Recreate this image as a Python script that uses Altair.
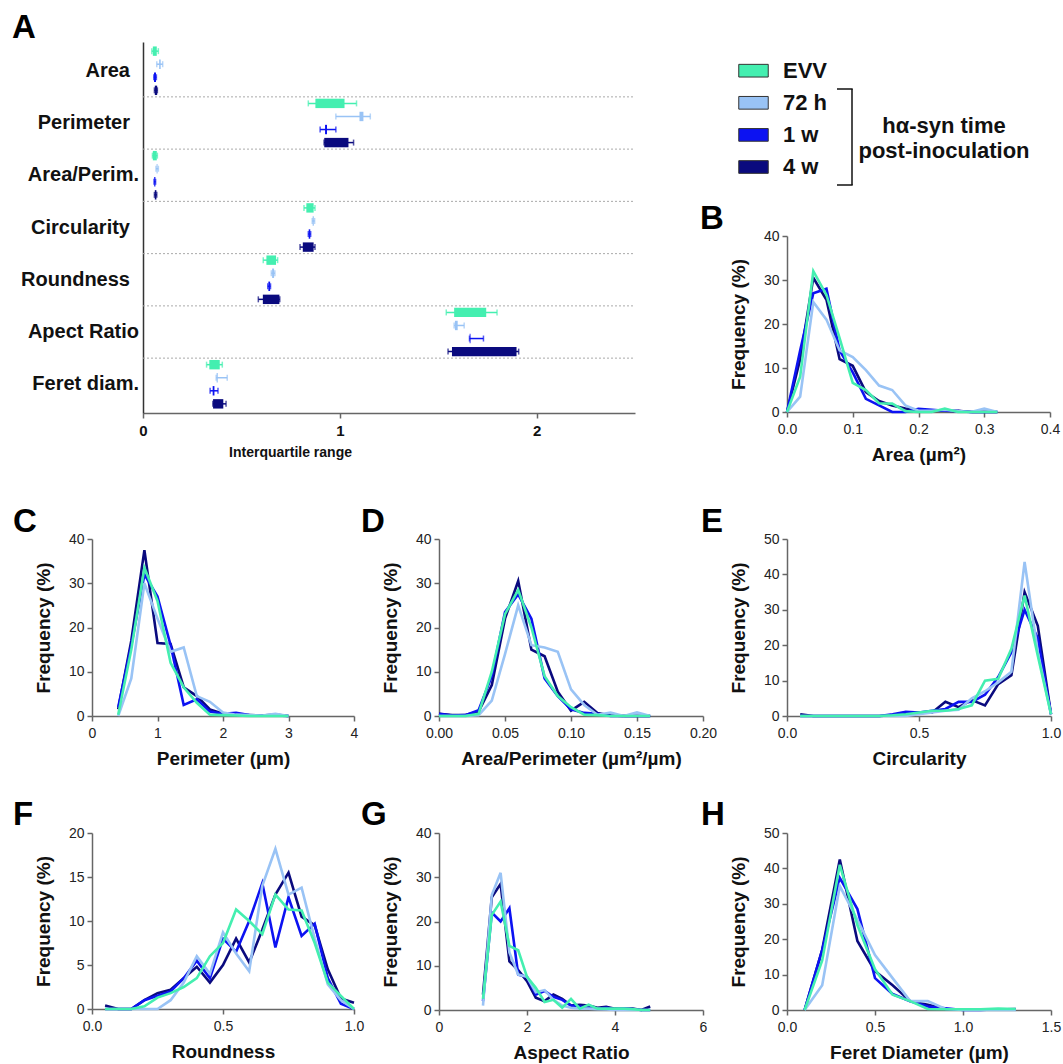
import altair as alt
import pandas as pd

W, H = 1063, 1064
FONT = "Liberation Sans"

# ---------------------------------------------------------------- groups
groups = ["EVV", "72 h", "1 w", "4 w"]
group_colors = ["#44EFB0", "#99C3F5", "#0C12F2", "#0A0A7E"]
color_of = dict(zip(groups, group_colors))
draw_order = ["4 w", "1 w", "72 h", "EVV"]

# ---------------------------------------------------------------- panel A: interquartile ranges
params = ["Area", "Perimeter", "Area/Perim.", "Circularity", "Roundness", "Apect Ratio", "Feret diam."]
short_params = ["Area", "Perimeter", "Circularity", "Roundness"]
# values per parameter, in the order EVV, 72 h, 1 w, 4 w
whisker_lo = {
    "Area": [0.045, 0.070, 0.055, 0.058],
    "Perimeter": [0.840, 0.980, 0.900, 0.920],
    "Area/Perim.": [0.048, 0.066, 0.056, 0.058],
    "Circularity": [0.818, 0.860, 0.840, 0.798],
    "Roundness": [0.611, 0.652, 0.634, 0.586],
    "Apect Ratio": [1.541, 1.581, 1.659, 1.550],
    "Feret diam.": [0.323, 0.372, 0.341, 0.355],
}
box_lo = {
    "Area": [0.050, 0.082, 0.056, 0.060],
    "Perimeter": [0.876, 1.100, 0.925, 0.921],
    "Area/Perim.": [0.050, 0.069, 0.057, 0.060],
    "Circularity": [0.830, 0.862, 0.842, 0.812],
    "Roundness": [0.627, 0.656, 0.637, 0.609],
    "Apect Ratio": [1.581, 1.585, 1.660, 1.570],
    "Feret diam.": [0.337, 0.374, 0.354, 0.356],
}
box_hi = {
    "Area": [0.070, 0.090, 0.066, 0.072],
    "Perimeter": [1.024, 1.120, 0.935, 1.044],
    "Area/Perim.": [0.070, 0.074, 0.063, 0.068],
    "Circularity": [0.867, 0.868, 0.850, 0.867],
    "Roundness": [0.676, 0.666, 0.646, 0.693],
    "Apect Ratio": [1.744, 1.599, 1.664, 1.898],
    "Feret diam.": [0.390, 0.380, 0.363, 0.408],
}
whisker_hi = {
    "Area": [0.078, 0.100, 0.068, 0.073],
    "Perimeter": [1.085, 1.155, 0.980, 1.070],
    "Area/Perim.": [0.073, 0.078, 0.064, 0.070],
    "Circularity": [0.874, 0.872, 0.852, 0.874],
    "Roundness": [0.684, 0.670, 0.648, 0.695],
    "Apect Ratio": [1.799, 1.632, 1.730, 1.909],
    "Feret diam.": [0.403, 0.428, 0.381, 0.422],
}

# ---------------------------------------------------------------- panels B-H: frequency distributions
area_bins = [0.00, 0.02, 0.04, 0.06, 0.08, 0.10, 0.12, 0.14, 0.16, 0.18, 0.20, 0.22, 0.24, 0.26, 0.28, 0.30, 0.32]
area_freq = {
    "EVV": [0, 8, 32, 26.6, 16.8, 6.6, 5, 2, 1.9, 0.2, 0, 0, 0.8, 0, 0, 0, 0],
    "72 h": [0, 3.5, 25, 21, 14, 12.5, 9.5, 6, 5, 1.5, 0.3, 0.3, 0.5, 0.2, 0, 0.8, 0],
    "1 w": [0, 14, 27, 28, 14, 9, 3, 1.5, 0, 0, 0.7, 0.5, 0.3, 0.2, 0, 0, 0],
    "4 w": [0, 12, 30.5, 25.5, 12, 10.5, 4.5, 2.5, 1.5, 0.8, 0.5, 0.3, 0.3, 0.3, 0, 0, 0],
}

perim_bins = [0.4, 0.6, 0.8, 1.0, 1.2, 1.4, 1.6, 1.8, 2.0, 2.2, 2.4, 2.6, 2.8, 3.0]
perim_freq = {
    "EVV": [0.3, 15, 33.5, 26, 12, 6.5, 3, 0.3, 0.2, 0.1, 0, 0, 0, 0],
    "72 h": [0, 8.5, 30, 22, 14.5, 15.5, 4.5, 3.2, 0.8, 0.3, 0.2, 0.1, 0.5, 0],
    "1 w": [2, 16, 32, 27, 16, 2.5, 3.8, 1, 0.5, 0.7, 0.2, 0.1, 0.1, 0],
    "4 w": [1.5, 17, 37.5, 16.5, 16.3, 6.5, 4.5, 1.5, 0.5, 0.3, 0.2, 0.1, 0.3, 0],
}

ap_bins = [0.00, 0.01, 0.02, 0.03, 0.04, 0.05, 0.06, 0.07, 0.08, 0.09, 0.10, 0.11, 0.12, 0.13, 0.14, 0.15, 0.16]
ap_freq = {
    "EVV": [0, 0, 0, 0.5, 10, 23, 28.5, 20, 9, 4.5, 2, 0.3, 0.2, 0, 0, 0, 0],
    "72 h": [0, 0, 0, 0.2, 3.5, 14, 25, 16, 15.5, 14.5, 6, 2.5, 0.3, 0.8, 0, 0.8, 0],
    "1 w": [0.5, 0.1, 0.2, 1.3, 9, 23.5, 27.5, 22, 8.5, 4.5, 1.5, 0.7, 0.5, 0, 0, 0, 0],
    "4 w": [0.5, 0.2, 0.2, 1, 7, 22, 30.5, 15, 13.5, 5.5, 1.2, 3.2, 0.7, 0.1, 0, 0, 0],
}

circ_bins = [0.05, 0.10, 0.15, 0.20, 0.25, 0.30, 0.35, 0.40, 0.45, 0.50,
             0.55, 0.60, 0.65, 0.70, 0.75, 0.80, 0.85, 0.90, 0.95, 1.00]
circ_freq = {
    "EVV": [0, 0, 0, 0, 0, 0, 0, 0.2, 0.5, 1, 1.5, 1.5, 2, 3, 10, 10.5, 19, 34, 17, 0.5],
    "72 h": [0, 0, 0, 0, 0, 0, 0, 0, 0, 0.5, 1, 1.5, 1.8, 5, 7, 9.5, 12.5, 43.5, 18, 0.5],
    "1 w": [0, 0, 0, 0, 0, 0, 0, 0.5, 1.2, 1, 1.5, 2, 4, 4, 6, 11, 18, 30, 22, 0.5],
    "4 w": [0.5, 0, 0, 0, 0, 0, 0, 0.2, 0.6, 1, 1, 4, 2.5, 4.5, 3, 9, 11.5, 35, 25.5, 0.5],
}

round_bins = circ_bins
round_freq = {
    "EVV": [0, 0, 0, 0.3, 1.3, 1.8, 2.5, 3.5, 6, 7.5, 11.3, 10, 8.5, 13, 11.3, 11.2, 7.5, 3, 1.5, 0],
    "72 h": [0, 0, 0, 0, 0, 1, 3, 6, 4, 8.7, 6.3, 4.3, 14, 18.2, 13, 13.8, 8, 2.8, 1, 0],
    "1 w": [0, 0, 0, 1, 1.5, 2, 3.5, 5.5, 3.5, 8, 6.5, 10, 14.3, 7, 12.7, 8.3, 9.7, 3.5, 0.6, 0],
    "4 w": [0.4, 0, 0, 1, 1.8, 2.2, 3.5, 4.8, 3, 5, 8, 5.3, 9, 13, 15.5, 10.5, 9.5, 4.5, 1.2, 0.7],
}

ar_bins = [1.0, 1.2, 1.4, 1.6, 1.8, 2.0, 2.2, 2.4, 2.6, 2.8,
           3.0, 3.2, 3.4, 3.6, 3.8, 4.0, 4.2, 4.4, 4.6, 4.8]
ar_freq = {
    "EVV": [2.5, 21.5, 24.5, 14.5, 13.5, 7.5, 5, 1.8, 2.3, 0.5, 2.5, 0.3, 1.2, 0.3, 0.3, 0.3, 0.3, 0.2, 0, 0],
    "72 h": [1, 26, 31, 13, 8, 7.5, 4, 4.5, 2.3, 1, 0.5, 0.3, 0.3, 0.2, 0.1, 0, 0, 0, 0, 0],
    "1 w": [2, 22, 20, 23, 8, 7.5, 3.5, 4.3, 3, 2.3, 1, 0.8, 0.5, 0.3, 0.5, 0.2, 0.3, 0.2, 0, 0],
    "4 w": [3.5, 25.5, 28.5, 11, 9, 6.5, 2.8, 2, 3.5, 2.5, 1, 1.2, 1, 0.5, 0.7, 0.3, 0.2, 0.3, 0, 0.8],
}

feret_bins = [0.1, 0.2, 0.3, 0.4, 0.5, 0.6, 0.7, 0.8, 0.9, 1.0, 1.1, 1.2, 1.3]
feret_freq = {
    "EVV": [0, 14, 41, 24, 11.5, 4.3, 2.5, 0.3, 0.2, 0.2, 0.2, 0.4, 0.3],
    "72 h": [0, 7, 35, 25.5, 15.5, 9, 2.5, 2.5, 0.3, 0, 0, 0, 0],
    "1 w": [0, 17, 37.3, 28.5, 9, 4.5, 2.5, 1, 0.5, 0, 0, 0.2, 0.2],
    "4 w": [0, 17, 42.5, 19.5, 11, 7, 2.5, 1.5, 0.3, 0.2, 0.1, 0.1, 0.3],
}

# ---------------------------------------------------------------- helpers
AXIS_GREY = "#666666"


def lin(domain, rng):
    return alt.Scale(domain=domain, range=rng, nice=False, zero=False)


def bottom_axis(y_px, x_px, values, fmt, title):
    return alt.Axis(
        orient="bottom", offset=y_px - H, values=values, format=fmt,
        title=title, titleX=(x_px[0] + x_px[1]) / 2, titleY=42,
        titleBaseline="middle", titleAlign="center",
        titleFont=FONT, titleFontSize=19, titleFontWeight="bold", titleColor="#111",
        labelFont=FONT, labelFontSize=14, labelColor="#222",
        labelPadding=5, labelFlush=False, labelOverlap=False,
        tickSize=5, tickWidth=1.5, tickColor=AXIS_GREY,
        domainColor=AXIS_GREY, domainWidth=1.5, grid=False,
    )


def left_axis(x_px, y_px, values, title):
    return alt.Axis(
        orient="left", offset=-x_px, values=values, format="d",
        title=title, titleX=-49, titleY=(y_px[0] + y_px[1]) / 2,
        titleAngle=270, titleBaseline="middle", titleAlign="center",
        titleFont=FONT, titleFontSize=19, titleFontWeight="bold", titleColor="#111",
        labelFont=FONT, labelFontSize=14, labelColor="#222", labelPadding=3,
        labelFlush=False, labelOverlap=False,
        tickSize=5, tickWidth=1.5, tickColor=AXIS_GREY,
        domainColor=AXIS_GREY, domainWidth=1.5, grid=False,
    )


def hist_panel(bins, freqs, xdom, x_px, ydom, y_px, xticks, xfmt, yticks, xtitle):
    sx = lin(xdom, x_px)
    sy = lin(ydom, y_px)
    out = []
    for k, g in enumerate(draw_order):
        df = pd.DataFrame({"x": bins, "freq": freqs[g]})
        ax_x = bottom_axis(y_px[0], x_px, xticks, xfmt, xtitle) if k == 0 else None
        ax_y = left_axis(x_px[0], y_px, yticks, "Frequency (%)") if k == 0 else None
        out.append(
            alt.Chart(df).mark_line(color=color_of[g], strokeWidth=2.6).encode(
                x=alt.X("x:Q", scale=sx, axis=ax_x),
                y=alt.Y("freq:Q", scale=sy, axis=ax_y),
            )
        )
    return out


def label(text, x, y, size=33):
    return alt.Chart(pd.DataFrame({"t": [text]})).mark_text(
        align="left", baseline="alphabetic", font=FONT, fontSize=size,
        fontWeight="bold", color="#000",
    ).encode(x=alt.value(x), y=alt.value(y), text="t:N")


layers = []

# ---------------------------------------------------------------- panel A
rows = []
for p_i, p in enumerate(params):
    for g_i, g in enumerate(groups):
        rows.append({
            "param": p, "group": g, "row": p_i * 4 + g_i,
            "wlo": whisker_lo[p][g_i], "q1": box_lo[p][g_i],
            "q3": box_hi[p][g_i], "whi": whisker_hi[p][g_i],
        })
iqr_df = pd.DataFrame(rows)

sxA = lin([0, 2.5], [143, 635])
syA = lin([-0.2, 28.2], [42, 413])
group_color = alt.Color("group:N", scale=alt.Scale(domain=groups, range=group_colors), legend=None)

separators = pd.DataFrame({"edge": [4, 8, 12, 16, 20, 24]})
layers.append(
    alt.Chart(separators).transform_calculate(x0="0", x1="2.5")
    .mark_rule(color="#AAAAAA", strokeWidth=1, strokeDash=[2, 2])
    .encode(x=alt.X("x0:Q", scale=sxA, axis=None), x2="x1:Q",
            y=alt.Y("edge:Q", scale=syA, axis=None))
)

axA_x = alt.Axis(
    orient="bottom", offset=413 - H, values=[0, 1, 2], format="d",
    title="Interquartile range", titleX=290, titleY=39,
    titleBaseline="middle", titleAlign="center",
    titleFont=FONT, titleFontSize=14, titleFontWeight="bold", titleColor="#111",
    labelFont=FONT, labelFontSize=15, labelFontWeight="bold", labelColor="#111",
    labelPadding=5, labelFlush=False, labelOverlap=False,
    tickSize=5, tickWidth=1.5, tickColor=AXIS_GREY,
    domainColor=AXIS_GREY, domainWidth=1.5, grid=False,
)
axA_y = alt.Axis(orient="left", offset=-143, ticks=False, labels=False, title=None,
                 domainColor="#333333", domainWidth=1.5, grid=False)

layers.append(
    alt.Chart(iqr_df).transform_calculate(mid="datum.row + 0.5")
    .mark_rule(strokeWidth=1.5)
    .encode(x=alt.X("wlo:Q", scale=sxA, axis=axA_x), x2="whi:Q",
            y=alt.Y("mid:Q", scale=syA, axis=axA_y), color=group_color)
)
layers.append(
    alt.Chart(iqr_df).transform_fold(["wlo", "whi"], as_=["end", "v"])
    .transform_calculate(mid="datum.row + 0.5")
    .mark_tick(orient="vertical", size=6, thickness=1.5)
    .encode(x=alt.X("v:Q", scale=sxA, axis=None),
            y=alt.Y("mid:Q", scale=syA, axis=None), color=group_color)
)
layers.append(
    alt.Chart(iqr_df).transform_calculate(top="datum.row + 0.14", bot="datum.row + 0.86")
    .mark_rect()
    .encode(x=alt.X("q1:Q", scale=sxA, axis=None), x2="q3:Q",
            y=alt.Y("top:Q", scale=syA, axis=None), y2="bot:Q", color=group_color)
)
cat_df = pd.DataFrame({"label": params, "center": [i * 4 + 2 for i in range(len(params))]})
is_short = alt.FieldOneOfPredicate(field="label", oneOf=short_params)
for test, right_edge in [(is_short, 130), (alt.LogicalNotPredicate(**{"not": is_short}), 139)]:
    layers.append(
        alt.Chart(cat_df).transform_filter(test)
        .mark_text(align="right", baseline="middle", font=FONT,
                   fontSize=20, fontWeight="bold", color="#111")
        .encode(x=alt.value(right_edge), y=alt.Y("center:Q", scale=syA, axis=None), text="label:N")
    )

# ---------------------------------------------------------------- legend
legend_df = pd.DataFrame({"group": groups})
sy_leg = alt.Scale(type="point", domain=groups, range=[70.7, 167], padding=0)
swatch = "M-1,-0.43L1,-0.43L1,0.43L-1,0.43Z"
layers.append(
    alt.Chart(legend_df).mark_point(shape=swatch, size=870, filled=True, opacity=1,
                                    stroke="#333333", strokeWidth=1)
    .encode(x=alt.value(753.5), y=alt.Y("group:N", scale=sy_leg, axis=None), color=group_color)
)
layers.append(
    alt.Chart(legend_df).mark_text(align="left", baseline="middle", font=FONT,
                                   fontSize=22, fontWeight="bold", color="#111")
    .encode(x=alt.value(783), y=alt.Y("group:N", scale=sy_leg, axis=None), text="group:N")
)
# bracket around the inoculated groups
bracket = pd.DataFrame({"k": [0]})
layers.append(alt.Chart(bracket).mark_rule(color="#111", strokeWidth=1.5)
              .encode(x=alt.value(852), y=alt.value(89), y2=alt.value(185)))
layers.append(alt.Chart(bracket).mark_rule(color="#111", strokeWidth=1.5)
              .encode(x=alt.value(837), x2=alt.value(852.7), y=alt.value(89)))
layers.append(alt.Chart(bracket).mark_rule(color="#111", strokeWidth=1.5)
              .encode(x=alt.value(837), x2=alt.value(852.7), y=alt.value(185)))
for line_text, yy in [("h\u03b1-syn time", 126), ("post-inoculation", 151)]:
    layers.append(
        alt.Chart(pd.DataFrame({"t": [line_text]})).mark_text(
            align="center", baseline="middle", font=FONT, fontSize=22,
            fontWeight="bold", color="#111")
        .encode(x=alt.value(944), y=alt.value(yy), text="t:N")
    )

# ---------------------------------------------------------------- panels B-H
layers += hist_panel(area_bins, area_freq, [0, 0.4], [787, 1050], [0, 40], [412, 236],
                     [0, 0.1, 0.2, 0.3, 0.4], ".1f", [0, 10, 20, 30, 40], "Area (\u00b5m\u00b2)")
layers += hist_panel(perim_bins, perim_freq, [0, 4], [92, 354], [0, 40], [716, 539],
                     [0, 1, 2, 3, 4], "d", [0, 10, 20, 30, 40], "Perimeter (\u00b5m)")
layers += hist_panel(ap_bins, ap_freq, [0, 0.2], [439, 703], [0, 40], [716, 539],
                     [0, 0.05, 0.1, 0.15, 0.2], ".2f", [0, 10, 20, 30, 40],
                     "Area/Perimeter (\u00b5m\u00b2/\u00b5m)")
layers += hist_panel(circ_bins, circ_freq, [0, 1], [787, 1051], [0, 50], [716, 539],
                     [0, 0.5, 1], ".1f", [0, 10, 20, 30, 40, 50], "Circularity")
layers += hist_panel(round_bins, round_freq, [0, 1], [92, 354], [0, 20], [1009, 833],
                     [0, 0.5, 1], ".1f", [0, 5, 10, 15, 20], "Roundness")
layers += hist_panel(ar_bins, ar_freq, [0, 6], [439, 703], [0, 40], [1010, 833],
                     [0, 2, 4, 6], "d", [0, 10, 20, 30, 40], "Aspect Ratio")
layers += hist_panel(feret_bins, feret_freq, [0, 1.5], [787, 1051], [0, 50], [1010, 833],
                     [0, 0.5, 1, 1.5], ".1f", [0, 10, 20, 30, 40, 50], "Feret Diameter (\u00b5m)")

# ---------------------------------------------------------------- panel letters
for letter, lx, ly in [("A", 12, 38), ("B", 700, 229), ("C", 13, 532), ("D", 361, 532),
                       ("E", 701, 532), ("F", 13, 825), ("G", 361, 825), ("H", 701, 825)]:
    layers.append(label(letter, lx, ly))

chart = (
    alt.layer(*layers)
    .resolve_scale(x="independent", y="independent")
    .resolve_axis(x="independent", y="independent")
    .properties(width=W, height=H, padding=0, autosize=alt.AutoSizeParams(type="none"))
    .configure(font=FONT)
    .configure_view(stroke=None)
)

chart.save("out.html", embed_options={"renderer": "svg", "actions": False})
